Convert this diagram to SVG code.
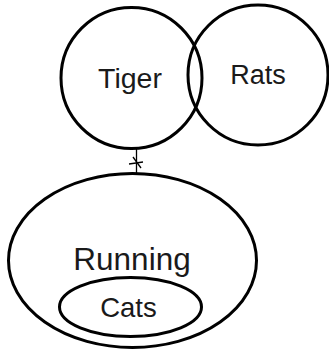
<svg xmlns="http://www.w3.org/2000/svg" width="329" height="352" viewBox="0 0 329 352">
<style>
.s{fill:none;stroke:#000;stroke-width:3}
.t{font-family:"Liberation Sans",Arial,sans-serif;fill:#1a1a1a;text-anchor:middle}
.c{fill:none;stroke:#000;stroke-width:1.3}
</style>
<rect width="329" height="352" fill="#fff"/>
<g id="connectors">
<line class="c" x1="136.5" y1="148" x2="136.5" y2="174"/>
<line class="c" x1="129" y1="164" x2="143" y2="162"/>
<line class="c" x1="133" y1="157" x2="141" y2="168"/>
</g>
<g id="rats">
<circle class="s" cx="258" cy="75" r="70"/>
<text class="t" x="258" y="84" font-size="27">Rats</text>
</g>
<g id="tiger">
<circle class="s" cx="131.5" cy="78" r="70.5"/>
<text class="t" x="130" y="88" font-size="28.5">Tiger</text>
</g>
<g id="running">
<ellipse class="s" cx="132.5" cy="260.5" rx="124" ry="87"/>
<text class="t" x="132" y="270" font-size="31.5">Running</text>
</g>
<g id="cats">
<ellipse class="s" cx="130.5" cy="307" rx="71" ry="29.5"/>
<text class="t" x="128.5" y="317" font-size="27.5">Cats</text>
</g>
</svg>
